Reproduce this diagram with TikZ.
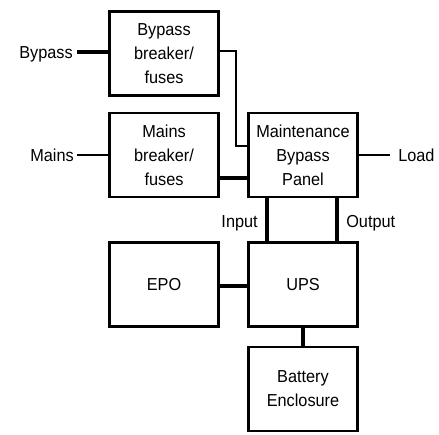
\documentclass[tikz,border=0pt]{standalone}
\usepackage{fontspec}
\setmainfont[FakeStretch=0.94]{Liberation Sans}
\begin{document}
\begin{tikzpicture}[x=0.75pt,y=-0.75pt,
  box/.style={draw,line width=2.2pt,minimum width=82pt,minimum height=63pt,align=center,inner sep=0pt,font=\fontsize{13}{18}\selectfont},
  lbl/.style={inner sep=0pt,font=\fontsize{13}{18}\selectfont},
  wire/.style={line width=2.3pt},
  thinwire/.style={line width=1.7pt}]
\useasboundingbox (0,0) rectangle (439,435);
\node[box] (bb) at (164,53.5) {Bypass\\breaker/\\fuses};
\node[box] (mb) at (164,155) {Mains\\breaker/\\fuses};
\node[box] (mbp) at (303,155) {Maintenance\\Bypass\\Panel};
\node[box] (epo) at (164,284.5) {EPO};
\node[box] (ups) at (303,284.5) {UPS};
\node[box] (bat) at (303,389) {Battery\\Enclosure};
\node[lbl,anchor=base east] (bplbl) at (73,58.5) {Bypass};
\node[lbl,anchor=base east] (mlbl) at (74,161.5) {Mains};
\node[lbl,anchor=base west] (llbl) at (398,161.5) {Load};
\node[lbl,anchor=base east] (inlbl) at (258,227) {Input};
\node[lbl,anchor=base west] (outlbl) at (346,227) {Output};
\coordinate (j1) at (236,51);
\coordinate (j2) at (236,146);
\draw[wire] (bb.west |- 0,52) -- (77,52);
\draw[thinwire] (mb.west |- 0,155) -- (77,155);
\draw[thinwire] (mbp.east |- 0,155) -- (390,155);
\draw[thinwire] (bb.east |- j1) -- (j1) -- (j2) -- (mbp.west |- j2);
\draw[wire] (mb.east |- 0,178) -- (mbp.west |- 0,178);
\draw[wire] (mbp.south -| 267,0) -- (ups.north -| 267,0);
\draw[wire] (mbp.south -| 337,0) -- (ups.north -| 337,0);
\draw[wire] (epo.east |- 0,286) -- (ups.west |- 0,286);
\draw[wire] (ups.south) -- (bat.north);
\end{tikzpicture}
\end{document}
